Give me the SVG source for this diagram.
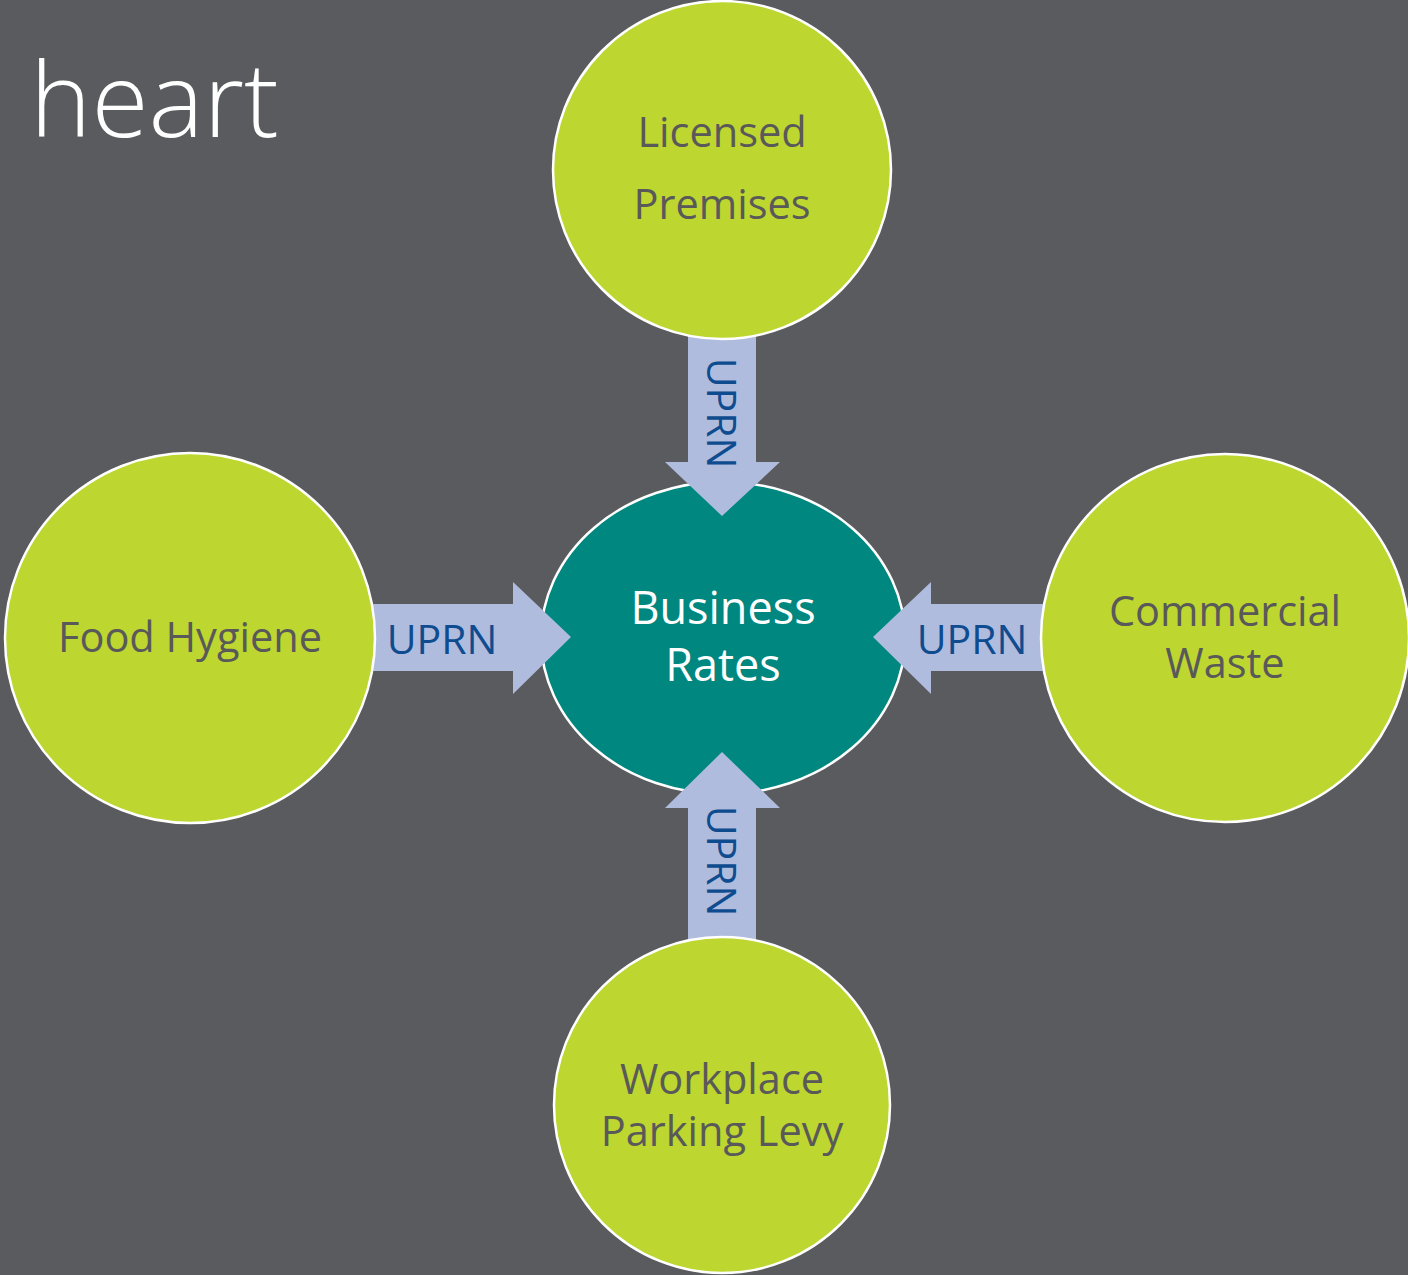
<svg xmlns="http://www.w3.org/2000/svg" width="1408" height="1275" viewBox="0 0 1408 1275">
<style>
.bg{fill:#5A5B5E}
.lime{fill:#BDD630;stroke:#FFFFFF;stroke-width:2.5}
.teal{fill:#00877F;stroke:#FFFFFF;stroke-width:2.5}
.arrow{fill:#AFBCDE}
.t{font-family:"Open Sans","Noto Sans",sans-serif;font-size:41.5px;fill:#595959;text-anchor:middle}
.w{fill:#FFFFFF;font-size:45px}
.u{font-family:"Open Sans","Noto Sans",sans-serif;font-size:41px;fill:#0F4C8F;text-anchor:middle}
.title{font-family:"Open Sans","Noto Sans",sans-serif;font-weight:300;font-size:104px;fill:#FFFFFF}
</style>
<rect class="bg" x="0" y="0" width="1408" height="1275"/>
<text class="title" x="30" y="137">heart</text>
<g id="node-business">
<ellipse class="teal" cx="723" cy="638" rx="182" ry="156"/>
<text class="t w" x="723" y="624">Business</text>
<text class="t w" x="723" y="681">Rates</text>
</g>
<g id="connectors">
<polygon class="arrow" points="688,330 756,330 756,462 780,462 722,516 665,462 688,462"/>
<polygon class="arrow" points="370,604 513,604 513,582 571,637 513,694 513,671 370,671"/>
<polygon class="arrow" points="1048,604 931,604 931,582 873,637 931,694 931,671 1048,671"/>
<polygon class="arrow" points="688,945 756,945 756,808 780,808 722,752 665,808 688,808"/>
<text class="u" x="442" y="654">UPRN</text>
<text class="u" x="972" y="654">UPRN</text>
<text class="u" transform="translate(722,413) rotate(90)"><tspan x="0" y="15">UPRN</tspan></text>
<text class="u" transform="translate(722,861) rotate(90)"><tspan x="0" y="15">UPRN</tspan></text>
</g>
<g id="node-licensed">
<circle class="lime" cx="722" cy="170" r="169"/>
<text class="t" x="722" y="147">Licensed</text>
<text class="t" x="722" y="219">Premises</text>
</g>
<g id="node-food">
<circle class="lime" cx="190" cy="638" r="185"/>
<text class="t" x="190" y="652">Food Hygiene</text>
</g>
<g id="node-commercial">
<circle class="lime" cx="1225" cy="638" r="184"/>
<text class="t" x="1225" y="626">Commercial</text>
<text class="t" x="1225" y="678">Waste</text>
</g>
<g id="node-workplace">
<circle class="lime" cx="722" cy="1105" r="168"/>
<text class="t" x="722" y="1094">Workplace</text>
<text class="t" x="722" y="1146">Parking Levy</text>
</g>
</svg>
